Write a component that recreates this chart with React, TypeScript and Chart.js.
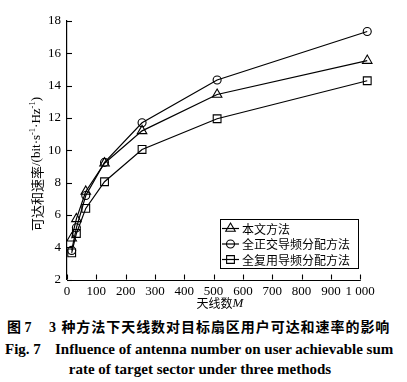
import React, { useEffect, useRef } from 'react';
import { Chart, registerables } from 'chart.js';

Chart.register(...registerables);

const antennaCounts = [16, 32, 64, 128, 256, 512, 1024];
const proposedRates = [4.55, 5.75, 7.45, 9.2, 11.2, 13.45, 15.55];
const orthogonalRates = [3.8, 5.2, 7.2, 9.25, 11.7, 14.35, 17.35];
const reuseRates = [3.65, 4.85, 6.4, 8.05, 10.05, 11.95, 14.3];
const seriesNames = ['本文方法', '全正交导频分配方法', '全复用导频分配方法'];
const seriesMarkers = ['triangle', 'circle', 'rect'];
const xTickValues = [0, 100, 200, 300, 400, 500, 600, 700, 800, 900, 1000];
const yTickValues = [2, 4, 6, 8, 10, 12, 14, 16, 18];

const SERIF = "'Liberation Serif', 'Times New Roman', serif";
const CJK = "'Noto Sans CJK SC', sans-serif";
const MIXED = "'Liberation Serif', 'Noto Sans CJK SC', serif";

function markerRadius(style: string) {
  if (style === 'circle') return 4;
  if (style === 'rect') return 5.5;
  return 5.5;
}

function drawMarker(ctx: CanvasRenderingContext2D, style: string, x: number, y: number) {
  const r = markerRadius(style);
  ctx.beginPath();
  if (style === 'circle') {
    ctx.arc(x, y, r, 0, Math.PI * 2);
  } else if (style === 'rect') {
    const s = Math.SQRT1_2 * r;
    ctx.rect(x - s, y - s, 2 * s, 2 * s);
  } else {
    ctx.moveTo(x, y - r);
    ctx.lineTo(x + Math.sin((2 * Math.PI) / 3) * r, y + r / 2);
    ctx.lineTo(x - Math.sin((2 * Math.PI) / 3) * r, y + r / 2);
    ctx.closePath();
  }
  ctx.stroke();
}

const decorPlugin = {
  id: 'decor',
  afterDraw(chart: any) {
    const ctx: CanvasRenderingContext2D = chart.ctx;
    const xs = chart.scales.x;
    const ys = chart.scales.y;
    const { left, bottom } = chart.chartArea;
    ctx.save();
    ctx.strokeStyle = '#000';
    // x axis line up to the last tick
    ctx.lineWidth = 1.2;
    ctx.beginPath();
    ctx.moveTo(left, Math.round(bottom) + 0.5);
    ctx.lineTo(xs.getPixelForValue(1000) + 0.6, Math.round(bottom) + 0.5);
    ctx.stroke();
    // inward ticks
    ctx.lineWidth = 1.1;
    xTickValues.forEach((v) => {
      const px = Math.round(xs.getPixelForValue(v)) + 0.5;
      ctx.beginPath();
      ctx.moveTo(px, bottom);
      ctx.lineTo(px, bottom - 5);
      ctx.stroke();
    });
    yTickValues.forEach((v) => {
      const py = Math.round(ys.getPixelForValue(v)) + 0.5;
      ctx.beginPath();
      ctx.moveTo(left, py);
      ctx.lineTo(left + 5, py);
      ctx.stroke();
    });

    // x title
    ctx.fillStyle = '#000';
    ctx.textBaseline = 'middle';
    ctx.font = `12px ${CJK}`;
    const t1 = '天线数';
    const w1 = ctx.measureText(t1).width;
    ctx.font = `italic 13px ${SERIF}`;
    const w2 = ctx.measureText('M').width;
    const cx = 220;
    const cy = 303;
    const sx = cx - (w1 + w2) / 2;
    ctx.font = `12px ${CJK}`;
    ctx.textAlign = 'left';
    ctx.fillText(t1, sx, cy);
    ctx.font = `italic 13px ${SERIF}`;
    ctx.fillText('M', sx + w1, cy + 0.5);

    // y title (rotated, piecewise with superscripts)
    const parts: [string, string, number][] = [
      ['可达和速率', `13px ${CJK}`, 0],
      ['/(bit·s', `13px ${SERIF}`, 0],
      ['-1', `8.5px ${SERIF}`, -4],
      ['·Hz', `13px ${SERIF}`, 0],
      ['-1', `8.5px ${SERIF}`, -4],
      [')', `13px ${SERIF}`, 0],
    ];
    let total = 0;
    parts.forEach(([t, f]) => {
      ctx.font = f;
      total += ctx.measureText(t).width;
    });
    ctx.translate(37, 164);
    ctx.rotate(-Math.PI / 2);
    let px = -total / 2;
    parts.forEach(([t, f, dy]) => {
      ctx.font = f;
      ctx.fillText(t, px, dy);
      px += ctx.measureText(t).width;
    });
    ctx.setTransform(1, 0, 0, 1, 0, 0);

    // legend
    ctx.lineWidth = 1;
    ctx.strokeRect(220.5, 219.5, 138, 49);
    const rows = [228.5, 244, 259.5];
    seriesNames.forEach((name, i) => {
      const y = rows[i];
      ctx.lineWidth = 1.2;
      ctx.beginPath();
      ctx.moveTo(222, y);
      ctx.lineTo(239, y);
      ctx.stroke();
      ctx.lineWidth = 1.1;
      drawMarker(ctx, seriesMarkers[i], 230.5, y);
      ctx.font = `12px ${CJK}`;
      ctx.textAlign = 'left';
      ctx.textBaseline = 'middle';
      ctx.fillText(name, 242, y + 0.5);
    });
    ctx.restore();
  },
};

export default function App() {
  const ref = useRef<HTMLCanvasElement | null>(null);
  useEffect(() => {
    if (!ref.current) return;
    const allSeries = [proposedRates, orthogonalRates, reuseRates];
    const chart = new Chart(ref.current, {
      type: 'line',
      data: {
        datasets: allSeries.map((vals, i) => ({
          label: seriesNames[i],
          data: antennaCounts.map((x, j) => ({ x, y: vals[j] })),
          borderColor: '#000',
          borderWidth: 1.2,
          pointStyle: seriesMarkers[i] as any,
          pointRadius: markerRadius(seriesMarkers[i]),
          pointBorderColor: '#000',
          pointBorderWidth: 1.1,
          pointBackgroundColor: 'rgba(0,0,0,0)',
          fill: false,
          tension: 0,
          clip: false as any,
        })),
      },
      options: {
        responsive: false,
        animation: false,
        devicePixelRatio: 1,
        layout: { padding: { left: 0, right: 38, top: 21, bottom: 0 } },
        plugins: {
          legend: { display: false },
          tooltip: { enabled: false },
        },
        scales: {
          x: {
            type: 'linear',
            min: 0,
            max: 1030,
            grid: { display: false, drawTicks: false },
            border: { display: false },
            afterBuildTicks: (s: any) => {
              s.ticks = xTickValues.map((v) => ({ value: v }));
            },
            ticks: {
              autoSkip: false,
              padding: 4,
              color: '#000',
              font: { family: SERIF, size: 13 },
              maxRotation: 0,
              callback: (v: any) => (v === 1000 ? '1 000' : String(v)),
            },
            afterFit: (s: any) => {
              s.height = 315 - 279.5;
            },
          },
          y: {
            type: 'linear',
            min: 2,
            max: 18,
            grid: { display: false, drawTicks: false },
            border: { display: true, color: '#000', width: 1.2 },
            ticks: {
              stepSize: 2,
              padding: 6,
              color: '#000',
              font: { family: SERIF, size: 13 },
            },
            afterFit: (s: any) => {
              s.width = 67;
            },
          },
        },
      },
      plugins: [decorPlugin],
    });
    return () => chart.destroy();
  }, []);

  const capBase: React.CSSProperties = {
    position: 'absolute',
    whiteSpace: 'pre',
    fontWeight: 'bold',
    color: '#000',
    lineHeight: '18px',
  };

  return (
    <div style={{ position: 'absolute', left: 0, top: 0, width: 407, height: 382, background: '#fff' }}>
      <canvas ref={ref} width={407} height={315} style={{ position: 'absolute', left: 0, top: 0 }} />
      <div style={{ ...capBase, left: 7, top: 319, fontSize: 14, fontFamily: MIXED }}>图 7</div>
      <div style={{ ...capBase, left: 49, top: 319, fontSize: 14, fontFamily: MIXED, letterSpacing: '0.95px' }}>
        3 种方法下天线数对目标扇区用户可达和速率的影响
      </div>
      <div style={{ ...capBase, left: 5, top: 340, fontSize: 15, fontFamily: SERIF }}>Fig. 7</div>
      <div style={{ ...capBase, left: 55, top: 340, fontSize: 15, fontFamily: SERIF }}>
        Influence of antenna number on user achievable sum
      </div>
      <div style={{ ...capBase, left: 0, width: 400, textAlign: 'center', top: 360, fontSize: 15, fontFamily: SERIF }}>
        rate of target sector under three methods
      </div>
    </div>
  );
}
